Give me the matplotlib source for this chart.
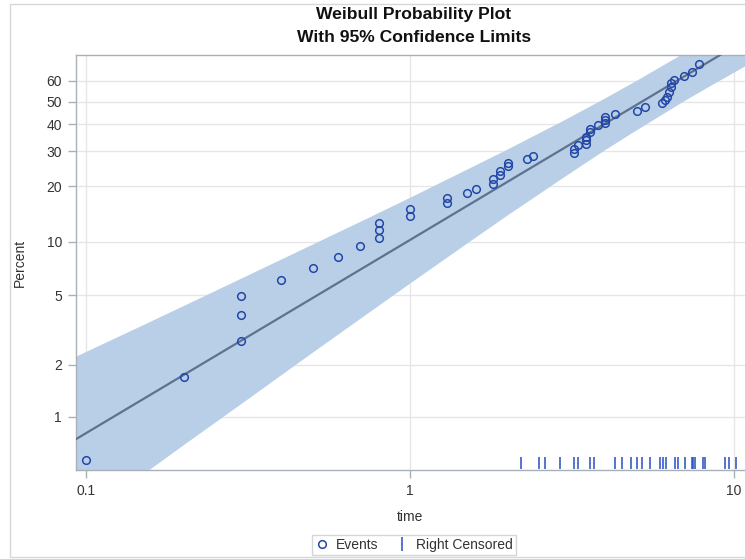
import numpy as np
import matplotlib
matplotlib.use("Agg")
import matplotlib.pyplot as plt
from matplotlib.lines import Line2D
from matplotlib.patches import Rectangle
from matplotlib.ticker import FixedLocator, FixedFormatter, NullLocator

plt.rcParams['font.family'] = ['Liberation Sans', 'DejaVu Sans']

# observed failures: time and plotting position (percent)
event_time = [0.1, 0.2, 0.3, 0.3, 0.3, 0.4, 0.5, 0.6, 0.7, 0.8, 0.8, 0.8,
              1.0, 1.0, 1.3, 1.3, 1.5, 1.6, 1.8, 1.8, 1.9, 1.9, 2.0, 2.0,
              2.3, 2.4, 3.2, 3.2, 3.3, 3.5, 3.5, 3.5, 3.6, 3.6, 3.8, 4.0,
              4.0, 4.0, 4.3, 5.0, 5.3, 6.0, 6.1, 6.2, 6.3, 6.37, 6.4, 6.5,
              7.0, 7.4, 7.8]
event_pct = [0.56, 1.69, 2.76, 3.87, 4.99, 6.13, 7.14, 8.24, 9.5, 10.56, 11.6, 12.7,
             13.88, 15.1, 16.3, 17.3, 18.3, 19.3, 20.5, 21.7, 22.7, 24.0, 25.2, 26.1,
             27.3, 28.4, 29.5, 30.6, 32.1, 32.5, 33.9, 35.2, 37.1, 38.0, 39.8, 40.5,
             41.9, 43.3, 44.5, 45.9, 47.7, 49.3, 50.8, 52.4, 54.8, 56.9, 58.9, 60.5,
             62.5, 64.6, 68.4]

# right censored times
censored_time = [2.2, 2.5, 2.6, 2.9, 3.2, 3.3, 3.6, 3.7, 4.3, 4.5, 4.8, 5.0, 5.2,
                 5.5, 5.9, 6.05, 6.14, 6.56, 6.7, 7.04, 7.42, 7.49, 7.56, 8.0,
                 8.15, 9.39, 9.63, 10.1]

# fitted Weibull line
fit_time = [0.093, 10.8]
fit_pct = [0.74, 79.5]

# 95% pointwise confidence band
band_time = [0.093, 0.15, 0.2, 0.3, 0.5, 0.7, 1.0, 1.5, 2.0, 3.0, 4.0, 5.0, 7.0, 8.5, 10.8]
band_upper = [2.245, 3.41, 4.39, 6.26, 9.74, 12.96, 17.5, 24.5, 30.8, 42.1, 51.9, 60.4, 73.8, 81.2, 89.3]
band_lower = [0.244, 0.466, 0.69, 1.19, 2.37, 3.70, 5.9, 9.89, 14.1, 22.5, 30.6, 37.9, 50.5, 58.1, 67.5]

y_ticks = [1, 2, 5, 10, 20, 30, 40, 50, 60]
x_ticks = [0.1, 1, 10]
x_labels = ["0.1", "1", "10"]


def weib_fwd(p):
    p = np.clip(np.asarray(p, dtype=float), 1e-6, 99.9999) / 100.0
    return np.log(-np.log(1.0 - p))


def weib_inv(w):
    return 100.0 * (1.0 - np.exp(-np.exp(np.asarray(w, dtype=float))))


fig = plt.figure(figsize=(7.45, 5.59), dpi=100)

# light outer frame
fig.patches.append(Rectangle((10 / 745, 2 / 559), 1.0, 553 / 559, transform=fig.transFigure,
                             fill=False, edgecolor="#d4d8dc", linewidth=1.0))

ax = fig.add_axes([76 / 745, 89 / 559, 669 / 745, 415 / 559])
ax.set_xscale("log")
ax.set_yscale("function", functions=(weib_fwd, weib_inv))
ax.set_xlim(0.0931, 10.8)
ax.set_ylim(0.49, 72.7)

ax.fill_between(band_time, band_lower, band_upper, color="#b9cfe7", linewidth=0, zorder=2)
ax.plot(fit_time, fit_pct, color="#5d7290", linewidth=1.6, zorder=3)
ax.plot(event_time, event_pct, linestyle="none", marker="o", markersize=5.5,
        markerfacecolor="none", markeredgecolor="#2347a8", markeredgewidth=1.1, zorder=4)
ax.vlines(censored_time, 0.002, 0.031, transform=ax.get_xaxis_transform(),
          color="#2450bf", linewidth=1.1, zorder=4)

ax.yaxis.set_major_locator(FixedLocator(y_ticks))
ax.yaxis.set_major_formatter(FixedFormatter([str(v) for v in y_ticks]))
ax.yaxis.set_minor_locator(NullLocator())
ax.xaxis.set_major_locator(FixedLocator(x_ticks))
ax.xaxis.set_major_formatter(FixedFormatter(x_labels))
ax.xaxis.set_minor_locator(NullLocator())

ax.grid(True, color="#e6e6e6", linewidth=1.0, zorder=0)
ax.set_axisbelow(True)
for side in ["left", "bottom", "top"]:
    ax.spines[side].set_color("#a9b0b7")
    ax.spines[side].set_linewidth(1.0)
ax.spines["right"].set_visible(False)
ax.tick_params(axis="both", colors="#a9b0b7", labelcolor="#333333", labelsize=10,
               length=6, width=1.0, pad=4)

ax.set_xlabel("time", fontsize=10, color="#333333", labelpad=9)
ax.set_ylabel("Percent", fontsize=10, color="#333333", labelpad=14)

fig.text(414 / 745, 1 - 15 / 559, "Weibull Probability Plot", ha="center", va="center",
         fontsize=12.6, fontweight="bold", color="#111111")
fig.text(414 / 745, 1 - 38 / 559, "With 95% Confidence Limits", ha="center", va="center",
         fontsize=12.6, fontweight="bold", color="#111111")

handles = [
    Line2D([], [], linestyle="none", marker="o", markersize=5.5, markerfacecolor="none",
           markeredgecolor="#2347a8", markeredgewidth=1.1),
    Line2D([], [], linestyle="none", marker="|", markersize=10, markeredgecolor="#2450bf",
           markeredgewidth=1.1),
]
leg = fig.legend(handles, ["Events", "Right Censored"], loc="center",
                 bbox_to_anchor=(414 / 745, 1 - 545 / 559), ncol=2, fontsize=10,
                 frameon=True, fancybox=False, edgecolor="#c8ccd0", handlelength=1.0,
                 handletextpad=0.5, columnspacing=1.2, borderpad=0.25)
leg.get_frame().set_linewidth(1.0)
for txt in leg.get_texts():
    txt.set_color("#333333")

fig.savefig("out.png", dpi=100)
